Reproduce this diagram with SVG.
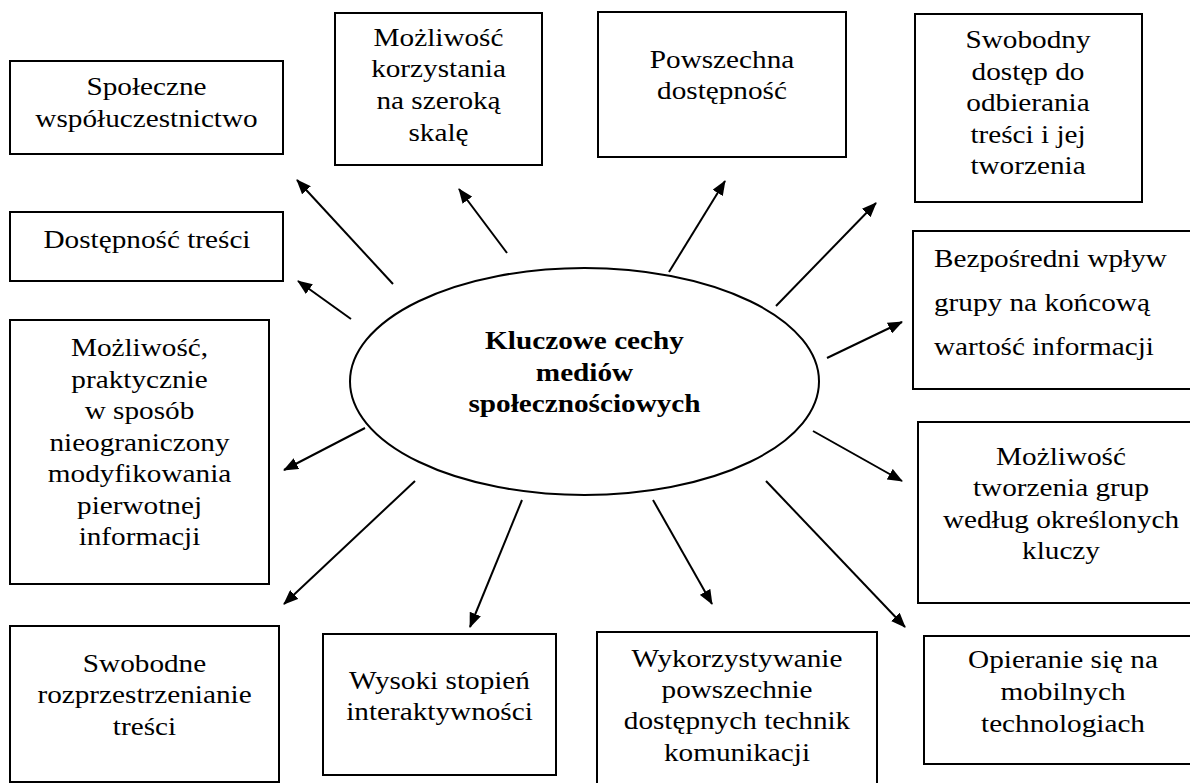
<svg xmlns="http://www.w3.org/2000/svg" width="1190" height="783" viewBox="0 0 1190 783">
<defs>
<style>
.box{fill:#fff;stroke:#000;stroke-width:2}
.t{font-family:"Liberation Serif","Times New Roman",serif;font-size:25px;fill:#000;text-anchor:middle}
.l{text-anchor:start}
.b{font-weight:bold}
.c{stroke:#000;stroke-width:2;fill:none;marker-end:url(#ah)}
</style>
<marker id="ah" markerUnits="userSpaceOnUse" markerWidth="16" markerHeight="12" refX="14" refY="6" orient="auto">
<path d="M0,0 L15,6 L0,12 z" fill="#000"/>
</marker>
</defs>
<rect width="1190" height="783" fill="#fff"/>

<g id="connectors">
<line class="c" x1="393" y1="284" x2="297" y2="180"/>
<line class="c" x1="507" y1="253" x2="459" y2="189"/>
<line class="c" x1="351" y1="319" x2="298" y2="281"/>
<line class="c" x1="669" y1="272" x2="725" y2="181"/>
<line class="c" x1="776" y1="306" x2="876" y2="203"/>
<line class="c" x1="827" y1="358" x2="902" y2="322"/>
<line class="c" x1="813" y1="431" x2="902" y2="481"/>
<line class="c" x1="766" y1="481" x2="905" y2="627"/>
<line class="c" x1="653" y1="500" x2="712" y2="604"/>
<line class="c" x1="522" y1="500" x2="470" y2="627"/>
<line class="c" x1="415" y1="481" x2="284" y2="604"/>
<line class="c" x1="365" y1="428" x2="284" y2="470"/>
</g>

<g id="center">
<ellipse cx="584.5" cy="381.5" rx="234.5" ry="113.5" fill="#fff" stroke="#000" stroke-width="2"/>
<g transform="translate(584.5 0) scale(1.17 1)">
<text class="t b" x="0" y="349">Kluczowe cechy</text>
<text class="t b" x="0" y="381">mediów</text>
<text class="t b" x="0" y="412">społecznościowych</text>
</g>
</g>

<g id="n-spoleczne">
<rect class="box" x="10" y="61" width="273" height="93"/>
<g transform="translate(146.5 0) scale(1.17 1)">
<text class="t" x="0" y="95">Społeczne</text>
<text class="t" x="0" y="127">współuczestnictwo</text>
</g>
</g>

<g id="n-korzystania">
<rect class="box" x="335" y="13" width="207" height="152"/>
<g transform="translate(438.5 0) scale(1.17 1)">
<text class="t" x="0" y="46">Możliwość</text>
<text class="t" x="0" y="77">korzystania</text>
<text class="t" x="0" y="109">na szeroką</text>
<text class="t" x="0" y="141">skalę</text>
</g>
</g>

<g id="n-powszechna">
<rect class="box" x="598" y="12" width="248" height="145"/>
<g transform="translate(722 0) scale(1.17 1)">
<text class="t" x="0" y="68">Powszechna</text>
<text class="t" x="0" y="99">dostępność</text>
</g>
</g>

<g id="n-swobodny">
<rect class="box" x="915" y="14" width="227" height="188"/>
<g transform="translate(1028 0) scale(1.17 1)">
<text class="t" x="0" y="48">Swobodny</text>
<text class="t" x="0" y="80">dostęp do</text>
<text class="t" x="0" y="111">odbierania</text>
<text class="t" x="0" y="143">treści i jej</text>
<text class="t" x="0" y="174">tworzenia</text>
</g>
</g>

<g id="n-dostepnosc">
<rect class="box" x="10" y="212" width="273" height="69"/>
<g transform="translate(147 0) scale(1.17 1)">
<text class="t" x="0" y="248">Dostępność treści</text>
</g>
</g>

<g id="n-bezposredni">
<rect class="box" x="913" y="231" width="290" height="158"/>
<g transform="translate(934 0) scale(1.17 1)">
<text class="t l" x="0" y="267">Bezpośredni wpływ</text>
<text class="t l" x="0" y="311">grupy na końcową</text>
<text class="t l" x="0" y="355">wartość informacji</text>
</g>
</g>

<g id="n-modyfikowania">
<rect class="box" x="10" y="320" width="259" height="264"/>
<g transform="translate(139.5 0) scale(1.17 1)">
<text class="t" x="0" y="356">Możliwość,</text>
<text class="t" x="0" y="388">praktycznie</text>
<text class="t" x="0" y="419">w sposób</text>
<text class="t" x="0" y="451">nieograniczony</text>
<text class="t" x="0" y="482">modyfikowania</text>
<text class="t" x="0" y="514">pierwotnej</text>
<text class="t" x="0" y="545">informacji</text>
</g>
</g>

<g id="n-grupy">
<rect class="box" x="918" y="422" width="285" height="181"/>
<g transform="translate(1061 0) scale(1.17 1)">
<text class="t" x="0" y="465">Możliwość</text>
<text class="t" x="0" y="496">tworzenia grup</text>
<text class="t" x="0" y="528">według określonych</text>
<text class="t" x="0" y="559">kluczy</text>
</g>
</g>

<g id="n-rozprzestrzenianie">
<rect class="box" x="10" y="626" width="269" height="156"/>
<g transform="translate(144.5 0) scale(1.17 1)">
<text class="t" x="0" y="672">Swobodne</text>
<text class="t" x="0" y="703">rozprzestrzenianie</text>
<text class="t" x="0" y="735">treści</text>
</g>
</g>

<g id="n-interaktywnosc">
<rect class="box" x="323" y="634" width="233" height="141"/>
<g transform="translate(439.5 0) scale(1.17 1)">
<text class="t" x="0" y="689">Wysoki stopień</text>
<text class="t" x="0" y="720">interaktywności</text>
</g>
</g>

<g id="n-techniki">
<rect class="box" x="597" y="632" width="280" height="160"/>
<g transform="translate(737 0) scale(1.17 1)">
<text class="t" x="0" y="667">Wykorzystywanie</text>
<text class="t" x="0" y="698">powszechnie</text>
<text class="t" x="0" y="729">dostępnych technik</text>
<text class="t" x="0" y="761">komunikacji</text>
</g>
</g>

<g id="n-mobilne">
<rect class="box" x="924" y="636" width="279" height="128"/>
<g transform="translate(1063 0) scale(1.17 1)">
<text class="t" x="0" y="668">Opieranie się na</text>
<text class="t" x="0" y="700">mobilnych</text>
<text class="t" x="0" y="732">technologiach</text>
</g>
</g>
</svg>
